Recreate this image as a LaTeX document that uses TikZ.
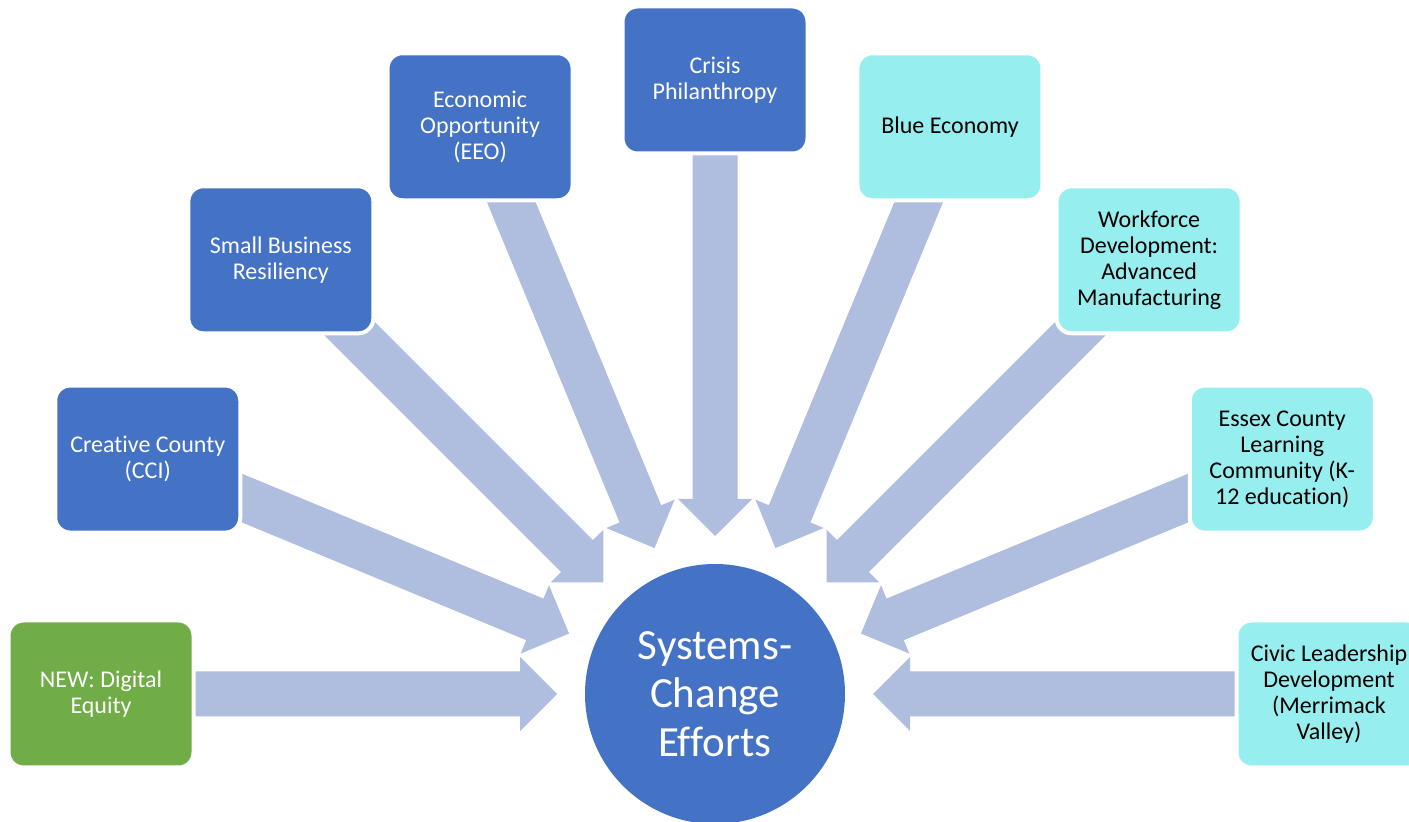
\documentclass[tikz,border=0pt]{standalone}
\usepackage{fontspec}
\setmainfont{Carlito}[Ligatures=NoCommon]
\usetikzlibrary{positioning,calc,backgrounds}
\definecolor{boxblue}{HTML}{4472C4}
\definecolor{boxcyan}{HTML}{97EEEE}
\definecolor{boxgreen}{HTML}{70AD47}
\definecolor{arrowfill}{HTML}{AFBDDE}

\begin{document}
\begin{tikzpicture}[x=1pt, y=1pt,
  effort/.style={rectangle, rounded corners=15pt, draw=white, line width=4pt,
    minimum width=185pt, minimum height=147pt, align=center,
    font=\fontsize{24}{26}\selectfont},
  darkeffort/.style={effort, fill=boxblue, text=white},
  lighteffort/.style={effort, fill=boxcyan, text=black},
  neweffort/.style={effort, fill=boxgreen, text=white}]

  \useasboundingbox (0,0) rectangle (1409,822);
  \clip (0,0) rectangle (1409,822);

  \node[circle, fill=boxblue, minimum size=260pt, text=white, align=center,
    font=\fontsize{43}{48.5}\selectfont] (sys) at (715,128) {Systems-\\Change\\Efforts};

  \node[neweffort] (digital) at ($(sys)+(180:614)$) {NEW: Digital\\Equity};
  \node[darkeffort] (creative) at ($(sys)+(157.5:614)$) {Creative County\\(CCI)};
  \node[darkeffort] (small) at ($(sys)+(135:614)$) {Small Business\\Resiliency};
  \node[darkeffort] (econ) at ($(sys)+(112.5:614)$) {Economic\\Opportunity\\(EEO)};
  \node[darkeffort] (crisis) at ($(sys)+(90:614)$) {Crisis\\Philanthropy};
  \node[lighteffort] (blue) at ($(sys)+(67.5:614)$) {Blue Economy};
  \node[lighteffort] (workforce) at ($(sys)+(45:614)$) {Workforce\\Development:\\Advanced\\Manufacturing};
  \node[lighteffort] (essex) at ($(sys)+(22.5:614)$) {Essex County\\Learning\\Community (K-\\12 education)};
  \node[lighteffort] (civic) at ($(sys)+(0:614)$) {Civic Leadership\\Development\\(Merrimack\\Valley)};

  % block arrows behind the boxes
  \begin{scope}[on background layer]
    \foreach \b in {digital,creative,small,econ,crisis,blue,workforce,essex,civic}{
      \coordinate (tail) at ($(sys)!560pt!(\b)$);
      \coordinate (base) at ($(sys)!195pt!(\b)$);
      \coordinate (tip) at ($(sys)!158pt!(\b)$);
      \fill[arrowfill] ($(tail)!22.5pt!90:(sys)$) -- ($(base)!22.5pt!90:(sys)$)
        -- ($(base)!37pt!90:(sys)$) -- (tip) -- ($(base)!37pt!-90:(sys)$)
        -- ($(base)!22.5pt!-90:(sys)$) -- ($(tail)!22.5pt!-90:(sys)$) -- cycle;
    }
  \end{scope}
\end{tikzpicture}
\end{document}
